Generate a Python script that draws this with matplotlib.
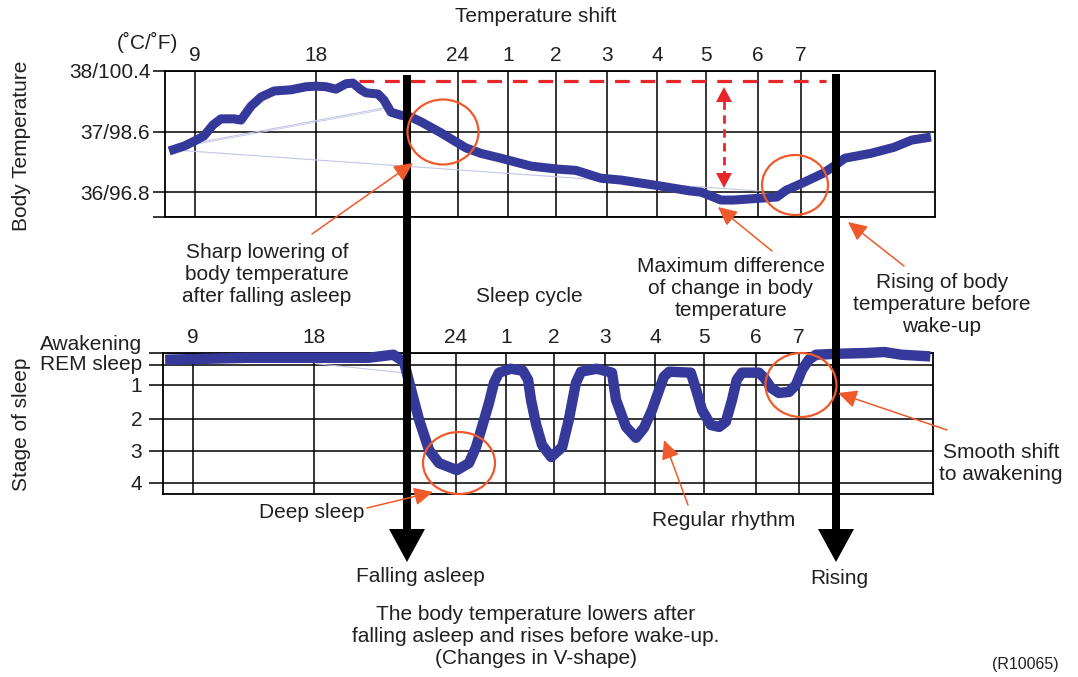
import numpy as np
import matplotlib.pyplot as plt
import matplotlib.transforms as mtransforms
from matplotlib.patches import Ellipse

plt.rcParams['font.family'] = ['Liberation Sans', 'DejaVu Sans']

#%% data
# clock hours, 24 = midnight, 25 = 1 a.m. ... 31 = 7 a.m.
hour_ticks = [9, 18, 24, 25, 26, 27, 28, 29, 30, 31]
hour_labels = ['9', '18', '24', '1', '2', '3', '4', '5', '6', '7']

temp_hours = [7.06, 8.18, 8.93, 9.67, 10.34, 10.93, 11.90, 12.42, 13.17, 13.91,
              14.88, 16.15, 17.26, 18.0, 18.42, 18.84, 19.27, 19.56, 19.90, 20.11,
              20.62, 20.87, 21.17, 21.59, 22.01, 22.44, 22.86, 23.28, 23.70, 24.16,
              24.46, 24.86, 25.48, 26.04, 26.39, 26.88, 27.28, 27.68, 28.08, 28.67,
              28.90, 29.29, 29.54, 30.05, 30.44, 30.65, 31.09, 31.49, 31.78, 31.98,
              32.56, 33.08, 33.48, 33.91]
temp_c = [36.68, 36.76, 36.84, 36.93, 37.11, 37.21, 37.21, 37.19, 37.42, 37.57,
          37.67, 37.69, 37.74, 37.75, 37.74, 37.70, 37.79, 37.80, 37.69, 37.64,
          37.62, 37.52, 37.32, 37.27, 37.24, 37.16, 37.07, 36.98, 36.88, 36.73,
          36.64, 36.56, 36.43, 36.38, 36.36, 36.23, 36.20, 36.15, 36.10, 36.02,
          36.00, 35.87, 35.87, 35.90, 35.92, 36.03, 36.17, 36.31, 36.45, 36.56,
          36.64, 36.74, 36.86, 36.91]

# sleep stage: -1 awakening, 0 REM sleep, 1..4 depth
sleep_hours = [6.91, 13.17, 18.2, 20.3, 21.35, 21.80, 22.14, 22.44, 22.86, 23.28,
               24.02, 24.26, 24.40, 24.52, 24.66, 24.76, 24.86, 25.10, 25.35, 25.46,
               25.52, 25.63, 25.75, 25.94, 26.16, 26.29, 26.43, 26.53, 26.84, 27.14,
               27.22, 27.42, 27.62, 27.78, 27.94, 28.18, 28.29, 28.73, 28.84, 28.96,
               29.13, 29.29, 29.42, 29.54, 29.63, 29.73, 30.07, 30.19, 30.35, 30.53,
               30.77, 30.93, 31.07, 31.22, 31.38, 31.89, 32.52, 32.91, 33.29, 33.94]
sleep_stage = [-0.45, -0.61, -0.61, -0.61, -0.86, -0.29, 1.24, 2.03, 2.97, 3.38,
               3.60, 3.38, 2.88, 2.25, 1.53, 0.90, 0.38, 0.18, 0.28, 0.74,
               1.44, 2.19, 2.81, 3.19, 2.88, 2.03, 0.90, 0.33, 0.18, 0.38,
               1.44, 2.25, 2.59, 2.28, 1.74, 0.59, 0.33, 0.38, 1.15, 1.74,
               2.19, 2.25, 2.09, 1.44, 0.74, 0.38, 0.38, 0.64, 1.09, 1.24,
               1.21, 1.00, 0.23, -0.45, -0.86, -0.94, -1.0, -1.08, -0.86, -0.72]

temp_ticks = [38, 37, 36]
temp_labels = ['38/100.4', '37/98.6', '36/96.8']
stage_ticks = [-1, 0, 1, 2, 3, 4]
stage_labels = ['Awakening', 'REM sleep', '1', '2', '3', '4']

# the time axis of the original is stretched at night: piecewise spacing
hour_knots = [0, 6.75, 9, 18, 24, 25, 26, 27, 28, 29, 30, 31, 34, 40]
pos_knots = [73, 164, 194, 315, 457, 507, 555, 606, 656, 705, 757, 800, 934, 1202]
stage_knots = [-2, -1, 0, 1, 2, 3, 4, 5]
stage_pos = [-12.2, 0, 12.2, 31.7, 65.7, 97.7, 129.5, 161.3]

#%% colours
ink = '#231f20'
blue = '#34399a'
faint = '#c3c6e6'
orange = '#ee5a2b'
red = '#e8272b'

W, H = 1078, 677
fig = plt.figure(figsize=(W / 100, H / 100), dpi=100)


def px_axes(l, t, r, b):
    return fig.add_axes([l / W, 1 - b / H, (r - l) / W, (b - t) / H])


def hour_fwd(h):
    return np.interp(h, hour_knots, pos_knots)


def hour_inv(p):
    return np.interp(p, pos_knots, hour_knots)


def stage_fwd(s):
    return np.interp(s, stage_knots, stage_pos)


def stage_inv(p):
    return np.interp(p, stage_pos, stage_knots)


def style(ax):
    ax.set_xscale('function', functions=(hour_fwd, hour_inv))
    ax.set_xlim(6.75, 34)
    ax.set_xticks(hour_ticks)
    ax.set_xticklabels(hour_labels)
    ax.xaxis.tick_top()
    ax.tick_params(axis='x', length=0, pad=4, labelsize=15, labelcolor=ink)
    ax.grid(True, color='black', lw=1.1)
    ax.set_axisbelow(True)
    for sp in ax.spines.values():
        sp.set_linewidth(1.3)
    ax.set_facecolor('none')


#%% top: body temperature
ax1 = px_axes(165, 71, 935, 217)
style(ax1)
ax1.set_ylim(35.59, 38)
ax1.set_yticks(temp_ticks + [35.59])
ax1.set_yticklabels(temp_labels + [''])
ax1.tick_params(axis='y', length=8.6, width=1.1, pad=2, labelsize=15, labelcolor=ink)

# faint stray strokes visible in the original scan
ax1.plot([7.06, 20.87], [36.73, 37.39], color=faint, lw=0.8)
ax1.plot([7.1, 20.8], [36.71, 37.36], color=faint, lw=0.6)
ax1.plot([7.2, 30.0], [36.70, 36.02], color=faint, lw=0.8)
ax1.plot(temp_hours, temp_c, color=blue, lw=6.5, solid_capstyle='butt', zorder=3)
# max temperature reference
ax1.plot([19.8, 31.55], [37.83, 37.83], color=red, lw=2.3, ls=(0, (4.6, 3.4)),
         zorder=4)

#%% bottom: stage of sleep
ax2 = px_axes(163, 353, 933, 494)
style(ax2)
ax2.set_yscale('function', functions=(stage_fwd, stage_inv))
ax2.set_ylim(4.35, -1)
ax2.set_yticks(stage_ticks)
ax2.set_yticklabels(stage_labels)
ax2.tick_params(axis='y', length=10, width=1.1, pad=5, labelsize=15, labelcolor=ink)
for lab, dy in zip(ax2.get_yticklabels(), [10, 3, 0, 0, 0, 0]):
    lab.set_transform(lab.get_transform() +
                      mtransforms.ScaledTranslation(0, dy / 100, fig.dpi_scale_trans))

ax2.plot([18.13, 21.72], [-0.12, 0.38], color=faint, lw=0.8)
ax2.plot(sleep_hours, sleep_stage, color=blue, lw=7.5, solid_capstyle='butt',
         solid_joinstyle='round', clip_on=False, zorder=3)

#%% overlay in pixel units for the call-outs
ov = fig.add_axes([0, 0, 1, 1])
ov.set_xlim(0, W)
ov.set_ylim(H, 0)
ov.axis('off')
ov.set_zorder(5)

# falling asleep / rising arrows
ov.arrow(407, 75, 0, 487, width=8, head_width=36, head_length=33,
         length_includes_head=True, fc='black', ec='none')
ov.arrow(836, 74, 0, 488, width=8, head_width=36, head_length=33,
         length_includes_head=True, fc='black', ec='none')

# red double arrow: max difference
ov.plot([724, 724], [101, 174], color=red, lw=2, ls=(0, (3, 2)))
ov.fill([716, 732, 724], [102, 102, 87], color=red, lw=0)
ov.fill([716, 732, 724], [173, 173, 188], color=red, lw=0)

# circles
for cx, cy, w, h in [(443, 132, 71, 65), (795, 185, 66, 60),
                     (459, 463, 72, 62), (801, 385, 71, 64)]:
    ov.add_patch(Ellipse((cx, cy), w, h, fill=False, ec=orange, lw=1.6))

# orange pointers
for tail, tip in [((312, 234), (413, 163)), ((772, 251), (718, 207)),
                  ((904, 266), (848, 222)), ((367, 508), (433, 492)),
                  ((688, 505), (664, 440)), ((947, 430), (838, 393))]:
    ov.annotate('', xy=tip, xytext=tail,
                arrowprops=dict(arrowstyle='-|>,head_length=1.15,head_width=0.55',
                                mutation_scale=10, color=orange, lw=1.1,
                                shrinkA=0, shrinkB=0))

txt = dict(color=ink, fontsize=15, ha='center', va='center')
ov.text(536, 17, 'Temperature shift', **txt)
ov.text(147, 42, '(˚C/˚F)', **txt)
ov.text(22, 146, 'Body Temperature', rotation=90, **txt)
ov.text(22, 424, 'Stage of sleep', rotation=90, **txt)
ov.text(267, 275, 'Sharp lowering of\nbody temperature\nafter falling asleep', **txt)
ov.text(529, 297, 'Sleep cycle', **txt)
ov.text(731, 288, 'Maximum difference\nof change in body\ntemperature', **txt)
ov.text(942, 304, 'Rising of body\ntemperature before\nwake-up', **txt)
ov.text(312, 513, 'Deep sleep', **txt)
ov.text(724, 520, 'Regular rhythm', **txt)
ov.text(1001, 464, 'Smooth shift\nto awakening', **txt)
ov.text(420, 577, 'Falling asleep', **txt)
ov.text(839, 578, 'Rising', **txt)
ov.text(536, 637, 'The body temperature lowers after\nfalling asleep and rises before wake-up.\n(Changes in V-shape)', **txt)
ov.text(1025, 664, '(R10065)', color=ink, fontsize=11.5, ha='center', va='center')

fig.savefig('out.png', dpi=100)
